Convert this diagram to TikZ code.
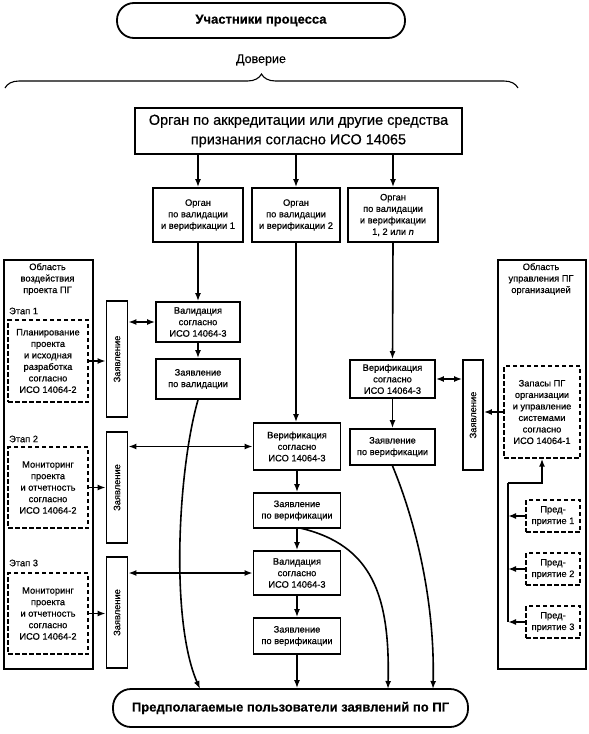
\documentclass[tikz,border=0pt]{standalone}
\usepackage{fontspec}
\setmainfont[FakeBold=0.5]{Liberation Sans}
\usetikzlibrary{arrows.meta,decorations.pathreplacing}
\begin{document}
\begin{tikzpicture}[x=1pt,y=-1pt,
  box/.style={draw,line width=1.8pt,align=center,font=\fontsize{9.3}{11.5}\selectfont,inner sep=1pt},
  dbox/.style={box,dash pattern=on 4.5pt off 2.5pt,line width=1.4pt},
  zbox/.style={draw,line width=1.8pt,minimum width=21,minimum height=111},
  rtext/.style={rotate=90,font=\fontsize{9.3}{11}\selectfont},
  lbl/.style={align=center,font=\fontsize{9.3}{11.5}\selectfont,inner sep=1pt},
  tip/.style={-{Latex[length=8pt,width=6pt]}},
  arr/.style={line width=1.6pt,tip},
  darr/.style={line width=1.6pt,{Latex[length=8pt,width=6pt]}-{Latex[length=8pt,width=6pt]}},
  ln/.style={line width=1.6pt}]
\useasboundingbox (0,0) rectangle (589,734);

% top title and brace
\node[draw,line width=1.8pt,rounded corners=17pt,minimum width=288,minimum height=35,
  font=\fontsize{13}{15}\selectfont\bfseries] (top) at (261,20.5) {Участники процесса};
\node[font=\fontsize{12.5}{14}\selectfont] (dov) at (261,60) {Доверие};
\draw[line width=1.1pt,decorate,decoration={brace,amplitude=14pt}] (5,88) -- (518,88);

% accreditation
\node[box,line width=2pt,minimum width=327,minimum height=46,font=\fontsize{14.5}{19.5}\selectfont] (acc) at (298.5,131)
  {Орган по аккредитации или другие средства\\признания согласно ИСО 14065};

% organs
\node[box,minimum width=90,minimum height=54] (o1) at (198,215) {Орган\\по валидации\\и верификации 1};
\node[box,minimum width=88,minimum height=54] (o2) at (296,215) {Орган\\по валидации\\и верификации 2};
\node[box,minimum width=90,minimum height=54] (o3) at (393,215) {Орган\\по валидации\\и верификации\\1, 2 или \textit{n}};
\foreach \o in {o1,o2,o3} \draw[arr] (\o.north |- acc.south) -- (\o.north);

% column 1
\node[box,minimum width=84,minimum height=40] (val1) at (198,322) {Валидация\\согласно\\ИСО 14064-3};
\node[box,minimum width=84,minimum height=40] (sv1) at (198,379) {Заявление\\по валидации};
\draw[arr] (o1.south) -- (val1.north);
\draw[arr] (val1.south) -- (sv1.north);

% column 2
\node[box,minimum width=87,minimum height=47] (ver2) at (297,446.5) {Верификация\\согласно\\ИСО 14064-3};
\node[box,minimum width=87,minimum height=35] (sv2) at (297,510.5) {Заявление\\по верификации};
\node[box,minimum width=87,minimum height=44] (val3) at (297,573) {Валидация\\согласно\\ИСО 14064-3};
\node[box,minimum width=87,minimum height=36] (sv3) at (297,636) {Заявление\\по верификации};
\draw[arr] (o2.south) -- (o2.south |- ver2.north);
\draw[arr] (ver2.south) -- (sv2.north);
\draw[arr] (sv2.south) -- (val3.north);
\draw[arr] (val3.south) -- (sv3.north);

% column 3
\node[box,minimum width=85,minimum height=38] (ver3) at (392.5,379) {Верификация\\согласно\\ИСО 14064-3};
\node[box,minimum width=85,minimum height=36] (sv4) at (392.5,447) {Заявление\\по верификации};
\draw[arr] (o3.south) -- (ver3.north);
\draw[arr] (ver3.south) -- (sv4.north);

% bottom
\node[draw,line width=1.8pt,rounded corners=18pt,minimum width=355,minimum height=38,
  font=\fontsize{13}{15}\selectfont\bfseries] (users) at (290.5,708) {Предполагаемые пользователи заявлений по ПГ};
\coordinate (e1) at (200,689);
\coordinate (e2) at (388,689);
\coordinate (e3) at (433,689);
\coordinate (s2) at (300,528);
\draw[arr] (sv1.south) .. controls (178,470) and (170,620) .. (e1);
\draw[arr] (s2) .. controls (372,545) and (390,595) .. (e2);
\draw[arr] (sv4.south) .. controls (415,520) and (435,600) .. (e3);
\draw[arr] (sv3.south) -- (sv3.south |- users.north);

% left area
\node[draw,line width=1.8pt,minimum width=89,minimum height=409,anchor=north west] (la) at (3,259) {};
\node[lbl,anchor=north] (lat) at (47.5,262) {Область\\воздействия\\проекта ПГ};
\node[lbl,anchor=west] (st1) at (8,311) {Этап 1};
\node[lbl,anchor=west] (st2) at (8,439) {Этап 2};
\node[lbl,anchor=west] (st3) at (8,563) {Этап 3};
\node[dbox,minimum width=80,minimum height=82] (d1) at (48,361) {Планирование\\проекта\\и исходная\\разработка\\согласно\\ИСО 14064-2};
\node[dbox,minimum width=80,minimum height=81] (d2) at (48,487.5) {Мониторинг\\проекта\\и отчетность\\согласно\\ИСО 14064-2};
\node[dbox,minimum width=80,minimum height=81] (d3) at (48,613.5) {Мониторинг\\проекта\\и отчетность\\согласно\\ИСО 14064-2};
\node[zbox,minimum height=116] (z1) at (117,359) {};
\node[zbox] (z2) at (117,487.5) {};
\node[zbox] (z3) at (117,612.5) {};
\node[rtext] (z1t) at (z1.center) {Заявление};
\node[rtext] (z2t) at (z2.center) {Заявление};
\node[rtext] (z3t) at (z3.center) {Заявление};
\draw[arr] (d1.east) -- (d1.east -| z1.west);
\draw[arr] (d2.east) -- (d2.east -| z2.west);
\draw[arr] (d3.east) -- (d3.east -| z3.west);
\draw[darr] (z1.east |- val1.west) -- (val1.west);
\draw[darr] (z2.east |- ver2.west) -- (ver2.west);
\draw[darr] (z3.east |- val3.west) -- (val3.west);

% right area
\node[draw,line width=1.8pt,minimum width=88,minimum height=409,anchor=north west] (ra) at (497,259) {};
\node[lbl,anchor=north] (rat) at (541,262) {Область\\управления ПГ\\организацией};
\node[dbox,minimum width=76,minimum height=92] (d4) at (542,412) {Запасы ПГ\\организации\\и управление\\системами\\согласно\\ИСО 14064-1};
\node[zbox,minimum width=20,minimum height=110] (z4) at (473,415) {};
\node[rtext] (z4t) at (z4.center) {Заявление};
\draw[darr] (ver3.east) -- (ver3.east -| z4.west);
\draw[arr] (d4.west) -- (d4.west -| z4.east);
\node[dbox,minimum width=54,minimum height=32] (p1) at (553,516) {Пред-\\приятие 1};
\node[dbox,minimum width=54,minimum height=32] (p2) at (553,569) {Пред-\\приятие 2};
\node[dbox,minimum width=54,minimum height=32] (p3) at (553,622) {Пред-\\приятие 3};
\coordinate (bt) at (508,483);
\coordinate (bb) at (508,622);
\draw[ln] (bt) -- (bb);
\draw[arr] (bt) -- (bt -| d4.south) -- (d4.south);
\draw[arr] (p1.west) -- (p1.west -| bt);
\draw[arr] (p2.west) -- (p2.west -| bt);
\draw[arr] (p3.west) -- (p3.west -| bt);
\end{tikzpicture}
\end{document}
